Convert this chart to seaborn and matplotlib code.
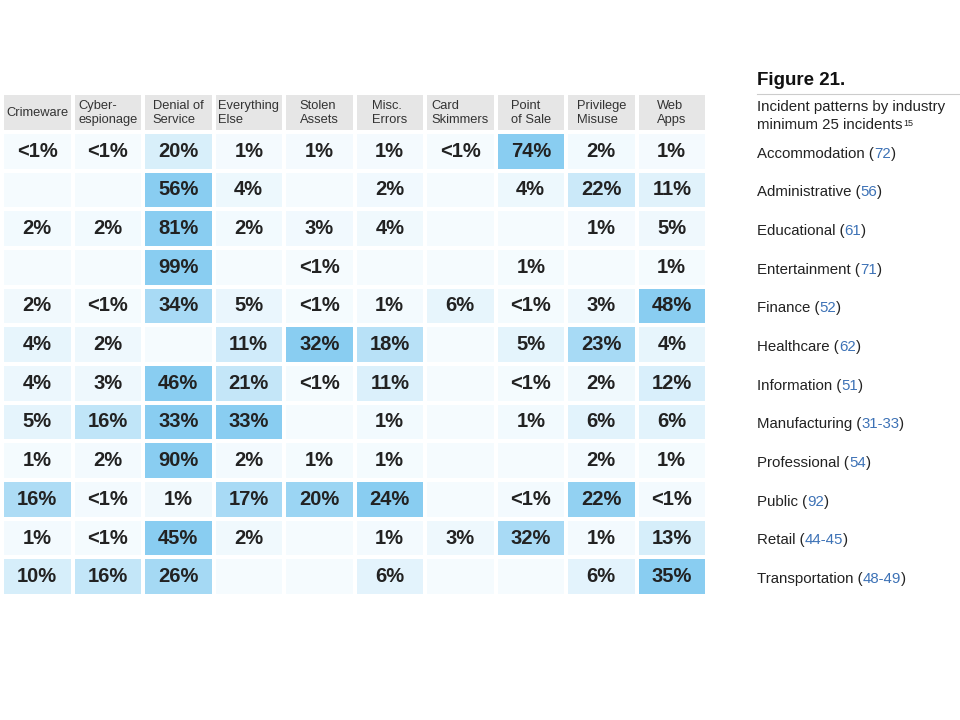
import numpy as np
import pandas as pd
import matplotlib
matplotlib.use("Agg")
import matplotlib.pyplot as plt
import matplotlib.transforms as mtransforms
from matplotlib.colors import LinearSegmentedColormap, ListedColormap
import seaborn as sns

# Figure 21 - incident patterns by industry (min 25 incidents)

patterns = ["Crimeware", "Cyber-\nespionage", "Denial of\nService", "Everything\nElse",
            "Stolen\nAssets", "Misc.\nErrors", "Card\nSkimmers", "Point\nof Sale",
            "Privilege\nMisuse", "Web\nApps"]

industries = ["Accommodation", "Administrative", "Educational", "Entertainment",
              "Finance", "Healthcare", "Information", "Manufacturing",
              "Professional", "Public", "Retail", "Transportation"]
naics = ["72", "56", "61", "71", "52", "62", "51", "31-33", "54", "92", "44-45", "48-49"]

# "" = no incidents shown in the cell
cells = [
    ["<1%", "<1%", "20%", "1%", "1%", "1%", "<1%", "74%", "2%", "1%"],
    ["", "", "56%", "4%", "", "2%", "", "4%", "22%", "11%"],
    ["2%", "2%", "81%", "2%", "3%", "4%", "", "", "1%", "5%"],
    ["", "", "99%", "", "<1%", "", "", "1%", "", "1%"],
    ["2%", "<1%", "34%", "5%", "<1%", "1%", "6%", "<1%", "3%", "48%"],
    ["4%", "2%", "", "11%", "32%", "18%", "", "5%", "23%", "4%"],
    ["4%", "3%", "46%", "21%", "<1%", "11%", "", "<1%", "2%", "12%"],
    ["5%", "16%", "33%", "33%", "", "1%", "", "1%", "6%", "6%"],
    ["1%", "2%", "90%", "2%", "1%", "1%", "", "", "2%", "1%"],
    ["16%", "<1%", "1%", "17%", "20%", "24%", "", "<1%", "22%", "<1%"],
    ["1%", "<1%", "45%", "2%", "", "1%", "3%", "32%", "1%", "13%"],
    ["10%", "16%", "26%", "", "", "6%", "", "", "6%", "35%"],
]


def to_num(s):
    if s == "":
        return 0.0
    if s.startswith("<"):
        return 0.5
    return float(s.rstrip("%"))


labels = pd.DataFrame(cells, index=industries, columns=patterns)
values = labels.map(to_num)
# shading is relative to the largest pattern in each industry
frac = values.div(values.max(axis=1), axis=0)

cmap = LinearSegmentedColormap.from_list("vz", ["#f5fbfe", "#89cdf1"])
font = ["Liberation Sans", "DejaVu Sans"]
plt.rcParams["font.family"] = font

W, H = 960, 720
fig = plt.figure(figsize=(9.6, 7.2), dpi=100)
gap = 4 * 72 / 100  # white gap between cells, in points

# body grid
ax = fig.add_axes([2 / W, 1 - 596 / H, 705 / W, 464 / H])
sns.heatmap(frac, ax=ax, cmap=cmap, vmin=0, vmax=1, annot=labels.values, fmt="",
            cbar=False, linewidths=gap, linecolor="white",
            xticklabels=False, yticklabels=False,
            annot_kws=dict(fontsize=14.5, fontweight="bold", color="#222222"))
ax.set_xlabel("")
ax.set_ylabel("")

# header row
axh = fig.add_axes([2 / W, 1 - 132 / H, 705 / W, 39 / H])
sns.heatmap(np.zeros((1, len(patterns))), ax=axh, cmap=ListedColormap(["#e6e6e6"]),
            cbar=False, linewidths=gap, linecolor="white",
            xticklabels=False, yticklabels=False)
for j, p in enumerate(patterns):
    axh.text(j + 0.5, 0.52, p, ha="center", va="center", multialignment="left",
             fontsize=9.3, color="#333333", linespacing=1.2)

# right-hand side text
x0 = 757 / W
fig.text(x0, 1 - 85 / H, "Figure 21.", fontsize=13.5, fontweight="bold",
         color="#111111", va="baseline")
fig.add_artist(plt.Line2D([x0, 1.0], [1 - 93.5 / H, 1 - 93.5 / H],
                          color="#cccccc", lw=0.8))
fig.text(x0, 1 - 111 / H, "Incident patterns by industry", fontsize=10.8,
         color="#222222", va="baseline")
t = fig.text(x0, 1 - 129 / H, "minimum 25 incidents", fontsize=10.8,
             color="#222222", va="baseline")
axh.annotate("15", xy=(1.0, 1.0), xycoords=t, xytext=(0.5, -0.8),
             textcoords="offset points", ha="left", va="top",
             fontsize=6.5, color="#222222", annotation_clip=False)

trans = mtransforms.blended_transform_factory(fig.transFigure, ax.transData)
for i, (name, code) in enumerate(zip(industries, naics)):
    t1 = ax.text(x0, i + 0.56, name + " (", transform=trans, ha="left",
                 va="center", fontsize=10.8, color="#222222", clip_on=False)
    t2 = ax.annotate(code, xy=(1, 0), xycoords=t1, ha="left", va="bottom",
                     fontsize=10.8, color="#3d72b6", annotation_clip=False)
    ax.annotate(")", xy=(1, 0), xycoords=t2, ha="left", va="bottom",
                fontsize=10.8, color="#222222", annotation_clip=False)

fig.savefig("out.png", dpi=100, facecolor="white")
